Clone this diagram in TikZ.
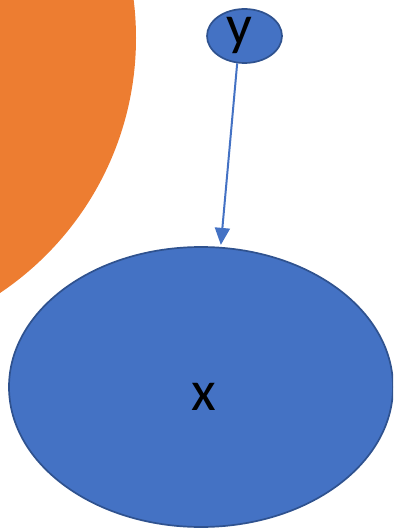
\documentclass[tikz,border=0pt]{standalone}
\usepackage{fontspec}
\setmainfont{Carlito}
\usetikzlibrary{shapes.geometric,arrows.meta}
\definecolor{orangeA}{HTML}{ED7D31}
\definecolor{blueA}{HTML}{4472C4}
\definecolor{blueB}{HTML}{2F528F}
\tikzset{
  bubble/.style={ellipse, fill=blueA, draw=blueB, line width=1.7pt, inner sep=0pt,
    text=black, font=\fontsize{57}{60}\selectfont},
  arr/.style={draw=blueA, line width=2pt, -{Triangle[width=15pt,length=17pt]}, shorten >=2pt}
}
\begin{document}
\begin{tikzpicture}[x=1pt,y=-1pt]
\useasboundingbox (0,0) rectangle (393,529);
\begin{scope}
\clip (0,0) rectangle (393,529);
\fill[orangeA] (-171,38) circle[radius=307];
\node[bubble, minimum width=384pt, minimum height=280pt, text height=46pt, text depth=0pt] (x) at (201,387) {\kern6pt x};
\node[bubble, minimum width=75pt, minimum height=54pt, text height=18pt, text depth=0pt] (y) at (244.5,36) {y\kern10pt};
\draw[arr] (y.255) -- (x.82);
\end{scope}
\end{tikzpicture}
\end{document}
